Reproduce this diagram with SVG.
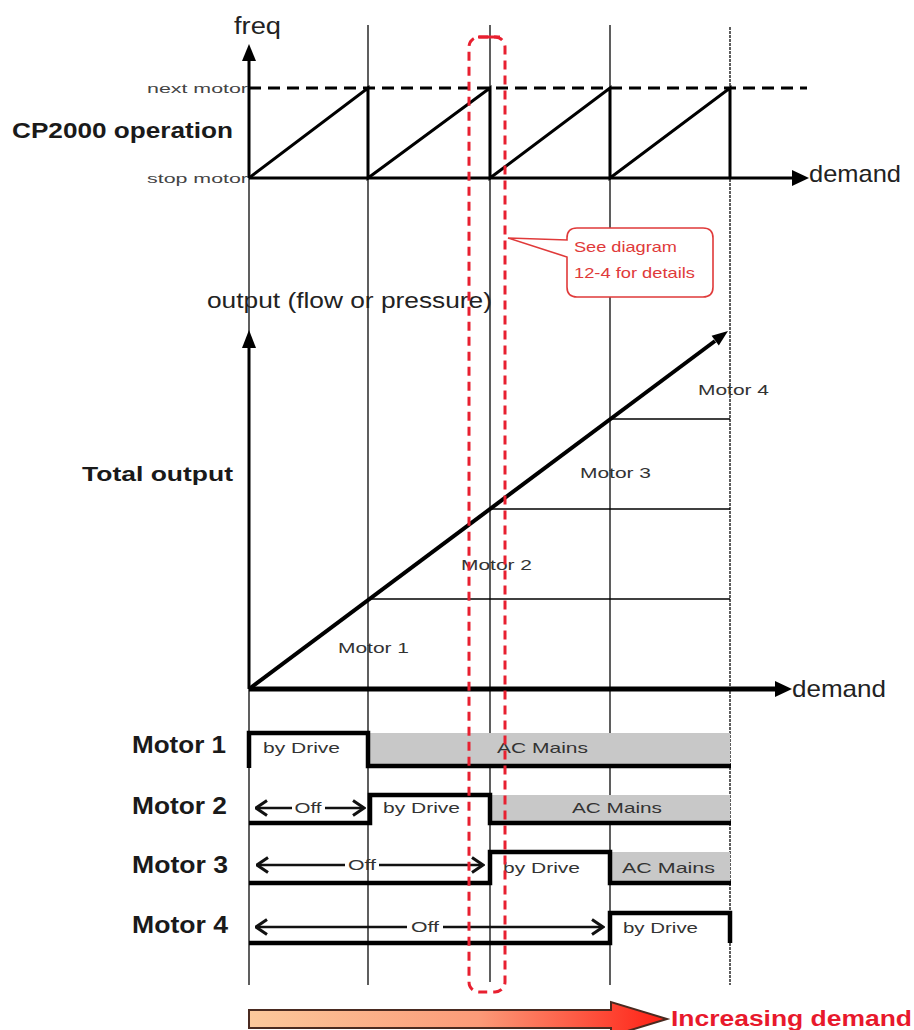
<svg xmlns="http://www.w3.org/2000/svg" width="914" height="1030" viewBox="0 0 914 1030">
<defs>
<style>
text{font-family:"Liberation Sans",Arial,sans-serif;}
.guide{stroke:#1a1a1a;stroke-width:1.4;fill:none;}
.thick{stroke:#000;stroke-width:3;fill:none;}
.row{stroke:#000;stroke-width:4.5;fill:none;stroke-linejoin:miter;}
.thin{stroke:#000;stroke-width:1.5;fill:none;}
.lbl{font-weight:bold;fill:#1a1a1a;}
.small{fill:#333;font-size:15px;}
.gray{fill:#c8c8c8;}
.offline{stroke:#111;stroke-width:2.4;fill:none;}
.red{stroke:#e82030;stroke-width:3;fill:none;stroke-dasharray:9 6;}
</style>
<marker id="chev" viewBox="0 0 14 18" refX="12.5" refY="9" markerWidth="14" markerHeight="18" markerUnits="userSpaceOnUse" orient="auto-start-reverse">
<polyline points="1.5,1.5 12.5,9 1.5,16.5" fill="none" stroke="#111" stroke-width="3"/>
</marker>
<linearGradient id="grad" x1="0" y1="0" x2="1" y2="0">
<stop offset="0" stop-color="#fcc99c"/>
<stop offset="0.55" stop-color="#fb9a78"/>
<stop offset="1" stop-color="#ff1f14"/>
</linearGradient>
</defs>

<g id="guides">
<line class="guide" x1="249" y1="55" x2="249" y2="985"/>
<line class="guide" x1="368" y1="25" x2="368" y2="985"/>
<line class="guide" x1="490" y1="25" x2="490" y2="982"/>
<line class="guide" x1="610" y1="25" x2="610" y2="985"/>
<line class="guide" x1="730" y1="27" x2="730" y2="985" stroke-dasharray="3 1"/>
</g>

<g id="cp2000-chart">
<text class="lbl" x="12" y="138" font-size="22" textLength="221" lengthAdjust="spacingAndGlyphs">CP2000 operation</text>
<text x="234" y="34" font-size="23" fill="#222" textLength="47" lengthAdjust="spacingAndGlyphs">freq</text>
<text x="147" y="93" font-size="13" fill="#444" textLength="101" lengthAdjust="spacingAndGlyphs">next motor</text>
<text x="147" y="183" font-size="13" fill="#444" textLength="101" lengthAdjust="spacingAndGlyphs">stop motor</text>
<line class="thick" x1="249" y1="178" x2="249" y2="58" stroke-width="3.5"/>
<polygon points="242,61 249,44 256,61" fill="#000"/>
<line class="thick" x1="249" y1="88" x2="807" y2="88" stroke-dasharray="12 7"/>
<line class="thick" x1="249" y1="178" x2="795" y2="178"/>
<polygon points="792,170 809,178 792,186" fill="#000"/>
<text x="809" y="182" font-size="24" fill="#222" textLength="92" lengthAdjust="spacingAndGlyphs">demand</text>
<path class="thick" stroke-width="3.4" d="M249,178 L368,88 L368,178 L490,88 L490,178 L610,88 L610,178 L730,88 L730,178"/>
</g>

<g id="output-chart">
<text x="207" y="308" font-size="22" fill="#222" textLength="285" lengthAdjust="spacingAndGlyphs">output (flow or pressure)</text>
<text class="lbl" x="82" y="481" font-size="20" textLength="151" lengthAdjust="spacingAndGlyphs">Total output</text>
<line class="thick" x1="249" y1="689" x2="249" y2="345" stroke-width="3.5"/>
<polygon points="242,348 249,330 256,348" fill="#000"/>
<line class="thin" x1="368" y1="599" x2="730" y2="599"/>
<line class="thin" x1="490" y1="509" x2="730" y2="509"/>
<line class="thin" x1="610" y1="419" x2="730" y2="419"/>
<line x1="249" y1="689" x2="715" y2="341" stroke="#000" stroke-width="4"/>
<polygon points="728,331 718.8,345.4 711.6,335.8" fill="#000"/>
<line x1="249" y1="689" x2="778" y2="689" stroke="#000" stroke-width="5"/>
<polygon points="775,681 792,689 775,697" fill="#000"/>
<text x="792" y="697" font-size="24" fill="#222" textLength="94" lengthAdjust="spacingAndGlyphs">demand</text>
<text class="small" x="338" y="653" textLength="71" lengthAdjust="spacingAndGlyphs">Motor 1</text>
<text class="small" x="461" y="570" textLength="71" lengthAdjust="spacingAndGlyphs">Motor 2</text>
<text class="small" x="580" y="478" textLength="71" lengthAdjust="spacingAndGlyphs">Motor 3</text>
<text class="small" x="698" y="395" textLength="71" lengthAdjust="spacingAndGlyphs">Motor 4</text>
</g>

<g id="motor1">
<text class="lbl" x="132" y="753" font-size="24" textLength="94" lengthAdjust="spacingAndGlyphs">Motor 1</text>
<rect class="gray" x="370" y="733" width="360" height="33"/>
<path class="row" d="M249,768 V733 H368 V766 H731"/>
<text class="small" x="263" y="753" font-size="16" textLength="77" lengthAdjust="spacingAndGlyphs">by Drive</text>
<text class="small" x="497" y="753" font-size="16" textLength="91" lengthAdjust="spacingAndGlyphs">AC Mains</text>
</g>

<g id="motor2">
<text class="lbl" x="132" y="814" font-size="24" textLength="95" lengthAdjust="spacingAndGlyphs">Motor 2</text>
<rect class="gray" x="490" y="795" width="240" height="28"/>
<path class="row" d="M249,823 H370 V795 H490 V823 H731"/>
<line class="offline" x1="256" y1="808" x2="292" y2="808" marker-start="url(#chev)"/>
<line class="offline" x1="325" y1="808" x2="364" y2="808" marker-end="url(#chev)"/>
<text class="small" x="308" y="813" text-anchor="middle" textLength="27" lengthAdjust="spacingAndGlyphs">Off</text>
<text class="small" x="383" y="813" font-size="16" textLength="77" lengthAdjust="spacingAndGlyphs">by Drive</text>
<text class="small" x="572" y="813" font-size="16" textLength="90" lengthAdjust="spacingAndGlyphs">AC  Mains</text>
</g>

<g id="motor3">
<text class="lbl" x="132" y="873" font-size="24" textLength="96" lengthAdjust="spacingAndGlyphs">Motor 3</text>
<rect class="gray" x="610" y="852" width="120" height="31"/>
<path class="row" d="M249,883 H490 V852 H610 V883 H731"/>
<line class="offline" x1="257" y1="865" x2="345" y2="865" marker-start="url(#chev)"/>
<line class="offline" x1="379" y1="865" x2="483" y2="865" marker-end="url(#chev)"/>
<text class="small" x="362" y="870" text-anchor="middle" textLength="28" lengthAdjust="spacingAndGlyphs">Off</text>
<text class="small" x="503" y="873" font-size="16" textLength="77" lengthAdjust="spacingAndGlyphs">by Drive</text>
<text class="small" x="622" y="873" font-size="16" textLength="93" lengthAdjust="spacingAndGlyphs">AC Mains</text>
</g>

<g id="motor4">
<text class="lbl" x="132" y="933" font-size="24" textLength="96" lengthAdjust="spacingAndGlyphs">Motor 4</text>
<path class="row" d="M249,943 H610 V913 H730 V943"/>
<line class="offline" x1="256" y1="927" x2="407" y2="927" marker-start="url(#chev)"/>
<line class="offline" x1="443" y1="927" x2="603" y2="927" marker-end="url(#chev)"/>
<text class="small" x="425" y="932" text-anchor="middle" textLength="28" lengthAdjust="spacingAndGlyphs">Off</text>
<text class="small" x="623" y="933" font-size="16" textLength="75" lengthAdjust="spacingAndGlyphs">by Drive</text>
</g>

<g id="highlight">
<rect class="red" x="469" y="37" width="36" height="955" rx="10"/>
<line x1="478" y1="37" x2="500" y2="37" stroke="#e82030" stroke-width="3"/>
</g>

<g id="callout">
<path d="M577,228 H703 Q713,228 713,238 V287 Q713,297 703,297 H577 Q567,297 567,287 V257 L508,238 L567,240 V238 Q567,228 577,228 Z" fill="#fff" stroke="#e03a3a" stroke-width="1.6"/>
<text x="574" y="252" font-size="15" fill="#e03a3a" textLength="103" lengthAdjust="spacingAndGlyphs">See diagram</text>
<text x="574" y="278" font-size="15" fill="#e03a3a" textLength="121" lengthAdjust="spacingAndGlyphs">12-4 for details</text>
</g>

<g id="demand-arrow">
<path d="M249,1010 H611 V1002 L667,1019 L611,1036 V1028 H249 Z" fill="url(#grad)" stroke="#4a2a20" stroke-width="2"/>
<text x="671" y="1026" font-size="22" font-weight="bold" fill="#e8192c" textLength="241" lengthAdjust="spacingAndGlyphs">Increasing demand</text>
</g>
</svg>
